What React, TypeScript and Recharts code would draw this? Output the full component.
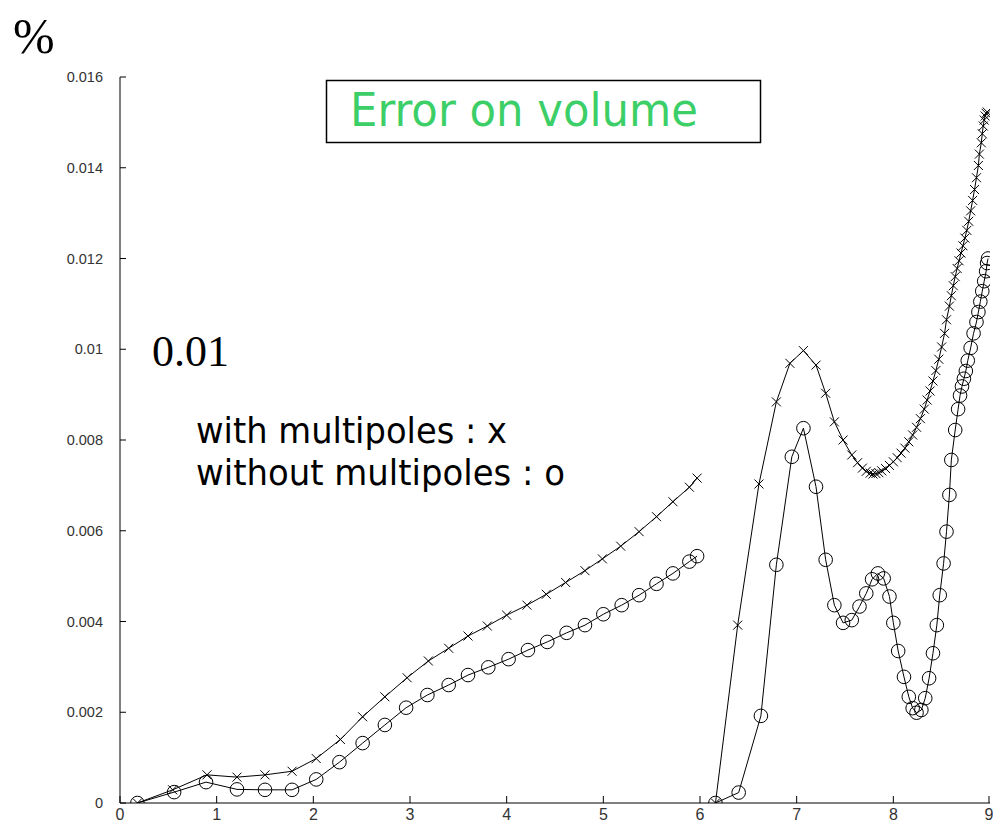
import React from 'react';
import { LineChart, Line, XAxis, YAxis } from 'recharts';

// x positions and volume error (%)
const withA_x = [0.18, 0.545, 0.9, 1.21, 1.5, 1.78, 2.03, 2.28, 2.51, 2.74, 2.97, 3.19, 3.4, 3.6, 3.8, 4.0, 4.21, 4.41, 4.61, 4.81, 4.99, 5.18, 5.37, 5.55, 5.72, 5.89, 5.97];
const withA_y = [0, 0.00029, 0.00062, 0.00057, 0.00062, 0.0007, 0.00098, 0.0014, 0.0019, 0.00234, 0.00276, 0.00313, 0.00341, 0.00368, 0.0039, 0.00414, 0.00436, 0.0046, 0.00486, 0.00512, 0.00538, 0.00566, 0.00598, 0.00631, 0.00664, 0.00696, 0.00716];

const withB_x = [6.16, 6.39, 6.61, 6.79, 6.93, 7.07, 7.2, 7.3, 7.39, 7.48, 7.57, 7.63, 7.68, 7.72, 7.76, 7.79, 7.82, 7.85, 7.88, 7.92, 7.96, 8.0, 8.04, 8.08, 8.12, 8.16, 8.2, 8.24, 8.28, 8.32, 8.35, 8.38, 8.41, 8.44, 8.47, 8.5, 8.53, 8.55, 8.58, 8.6, 8.62, 8.64, 8.66, 8.68, 8.7, 8.72, 8.74, 8.76, 8.78, 8.8, 8.82, 8.84, 8.86, 8.88, 8.89, 8.91, 8.92, 8.93, 8.94, 8.95, 8.96, 8.97];
const withB_y = [0, 0.00392, 0.00703, 0.00884, 0.00969, 0.00997, 0.00965, 0.00903, 0.0084, 0.008, 0.00767, 0.0075, 0.00738, 0.00731, 0.00727, 0.00725, 0.00726, 0.00728, 0.00732, 0.00737, 0.00744, 0.00752, 0.00761, 0.00771, 0.00782, 0.00796, 0.00811, 0.00828, 0.00847, 0.00868, 0.00888, 0.00908, 0.0093, 0.00953, 0.00978, 0.01005, 0.01035, 0.01065, 0.01095, 0.01118, 0.0114, 0.0116, 0.01178, 0.01195, 0.01212, 0.01228, 0.01245, 0.01262, 0.01282, 0.01305, 0.01328, 0.01352, 0.01378, 0.01405, 0.0143, 0.01455, 0.01475, 0.01492, 0.01505, 0.01514, 0.0152, 0.01523];

const withoutA_x = [0.18, 0.56, 0.89, 1.21, 1.5, 1.78, 2.03, 2.27, 2.51, 2.74, 2.96, 3.18, 3.4, 3.6, 3.81, 4.02, 4.22, 4.42, 4.62, 4.81, 5.0, 5.19, 5.37, 5.55, 5.72, 5.89, 5.97];
const withoutA_y = [0, 0.00024, 0.00046, 0.0003, 0.00029, 0.00029, 0.00052, 0.0009, 0.00132, 0.00172, 0.0021, 0.00238, 0.0026, 0.00282, 0.00299, 0.00317, 0.00337, 0.00355, 0.00375, 0.00392, 0.00416, 0.00436, 0.00458, 0.00483, 0.00506, 0.00532, 0.00544];

const withoutB_x = [6.16, 6.4, 6.63, 6.79, 6.95, 7.07, 7.2, 7.3, 7.39, 7.48, 7.57, 7.65, 7.72, 7.78, 7.84, 7.9, 7.96, 8.0, 8.05, 8.11, 8.16, 8.2, 8.24, 8.29, 8.33, 8.37, 8.41, 8.45, 8.48, 8.52, 8.55, 8.58, 8.6, 8.64, 8.67, 8.69, 8.71, 8.73, 8.75, 8.77, 8.8, 8.83, 8.86, 8.88, 8.9, 8.92, 8.94, 8.96, 8.97, 8.98];
const withoutB_y = [0, 0.00023, 0.00192, 0.00525, 0.00763, 0.00826, 0.00697, 0.00536, 0.00436, 0.00397, 0.00403, 0.00433, 0.00462, 0.00493, 0.00506, 0.00495, 0.00455, 0.00397, 0.00335, 0.00278, 0.00234, 0.00209, 0.00199, 0.00205, 0.00231, 0.00275, 0.0033, 0.00392, 0.00458, 0.00528, 0.00598, 0.00679, 0.00756, 0.00822, 0.00868, 0.00898, 0.00918, 0.00935, 0.00952, 0.00975, 0.01003, 0.01035, 0.0106, 0.01082, 0.01105, 0.01128, 0.0115, 0.01172, 0.0119, 0.012];

const xTicks = [0, 1, 2, 3, 4, 5, 6, 7, 8, 9];
const yTicks = [0, 0.002, 0.004, 0.006, 0.008, 0.01, 0.012, 0.014, 0.016];

const toRows = (xs: number[], ys: number[]) => xs.map((x, i) => ({ x, y: ys[i] }));

const CrossDot = (props: any) => {
  const { cx, cy, index } = props;
  if (cx == null || cy == null) return <g key={`c-${index}`} />;
  const s = 4.5;
  return (
    <path
      key={`c-${index}`}
      d={`M${cx - s},${cy - s}L${cx + s},${cy + s}M${cx - s},${cy + s}L${cx + s},${cy - s}`}
      stroke="#000"
      strokeWidth={1}
      fill="none"
    />
  );
};

const CircleDot = (props: any) => {
  const { cx, cy, index } = props;
  if (cx == null || cy == null) return <g key={`o-${index}`} />;
  return <circle key={`o-${index}`} cx={cx} cy={cy} r={6.8} stroke="#000" strokeWidth={1} fill="none" />;
};

const YTick = (props: any) => {
  const { x, y, payload } = props;
  const label = String(Number(payload.value.toFixed(3)));
  return (
    <g>
      <line x1={x + 17} x2={x + 23} y1={y} y2={y} stroke="#000" />
      <text x={x} y={y} dy="0.36em" textAnchor="end" fontSize={14.5} fill="#333" fontFamily="'Liberation Sans', Arial, sans-serif">
        {label}
      </text>
    </g>
  );
};

const XTick = (props: any) => {
  const { x, y, payload } = props;
  return (
    <g>
      <line x1={x} x2={x} y1={y - 5} y2={y - 12} stroke="#000" />
      <text x={x} y={y} dy="0.72em" textAnchor="middle" fontSize={16} fill="#333" fontFamily="'Liberation Sans', Arial, sans-serif">
        {payload.value}
      </text>
    </g>
  );
};

export default function App() {
  const series = [
    { key: 'withA', data: toRows(withA_x, withA_y), dot: CrossDot },
    { key: 'withB', data: toRows(withB_x, withB_y), dot: CrossDot },
    { key: 'withoutA', data: toRows(withoutA_x, withoutA_y), dot: CircleDot },
    { key: 'withoutB', data: toRows(withoutB_x, withoutB_y), dot: CircleDot },
  ];

  return (
    <div style={{ position: 'absolute', left: 0, top: 0, width: 993, height: 832, background: '#fff', overflow: 'hidden' }}>
      <LineChart width={993} height={832} margin={{ top: 77, right: 3, bottom: 0, left: 60 }}>
        <XAxis
          dataKey="x"
          type="number"
          domain={[0, 9]}
          ticks={xTicks}
          allowDataOverflow
          height={29}
          tickSize={0}
          tickMargin={5}
          tickLine={false}
          axisLine={{ stroke: '#000' }}
          tick={<XTick />}
        />
        <YAxis
          type="number"
          domain={[0, 0.016]}
          ticks={yTicks}
          allowDataOverflow
          width={60}
          tickSize={0}
          tickMargin={17}
          tickLine={false}
          axisLine={{ stroke: '#000' }}
          tick={<YTick />}
        />
        {series.map(s => (
          <Line
            key={s.key}
            data={s.data}
            dataKey="y"
            type="linear"
            stroke="#000"
            strokeWidth={1}
            dot={s.dot}
            activeDot={false}
            isAnimationActive={false}
          />
        ))}
      </LineChart>

      <svg width={993} height={832} style={{ position: 'absolute', left: 0, top: 0, pointerEvents: 'none' }}>
        <text x={13} y={53} fontSize={50} fontFamily="'Liberation Serif', 'Times New Roman', serif" fill="#000">%</text>
        <text x={152} y={366} fontSize={44} fontFamily="'Liberation Serif', 'Times New Roman', serif" fill="#000">0.01</text>
        <rect x={326.5} y={80.5} width={434} height={62} fill="#fff" stroke="#000" strokeWidth={1.5} />
        <text x={350} y={126} fontSize={47} textLength={348} lengthAdjust="spacingAndGlyphs" fontFamily="'Comic Sans MS', 'DejaVu Sans', sans-serif" fill="#3ccf67">
          Error on volume
        </text>
        <text x={196} y={443} fontSize={35} textLength={311} lengthAdjust="spacingAndGlyphs" fontFamily="'Comic Sans MS', 'DejaVu Sans', sans-serif" fill="#000">
          with multipoles : x
        </text>
        <text x={196} y={485} fontSize={35} textLength={369} lengthAdjust="spacingAndGlyphs" fontFamily="'Comic Sans MS', 'DejaVu Sans', sans-serif" fill="#000">
          without multipoles : o
        </text>
      </svg>
    </div>
  );
}
